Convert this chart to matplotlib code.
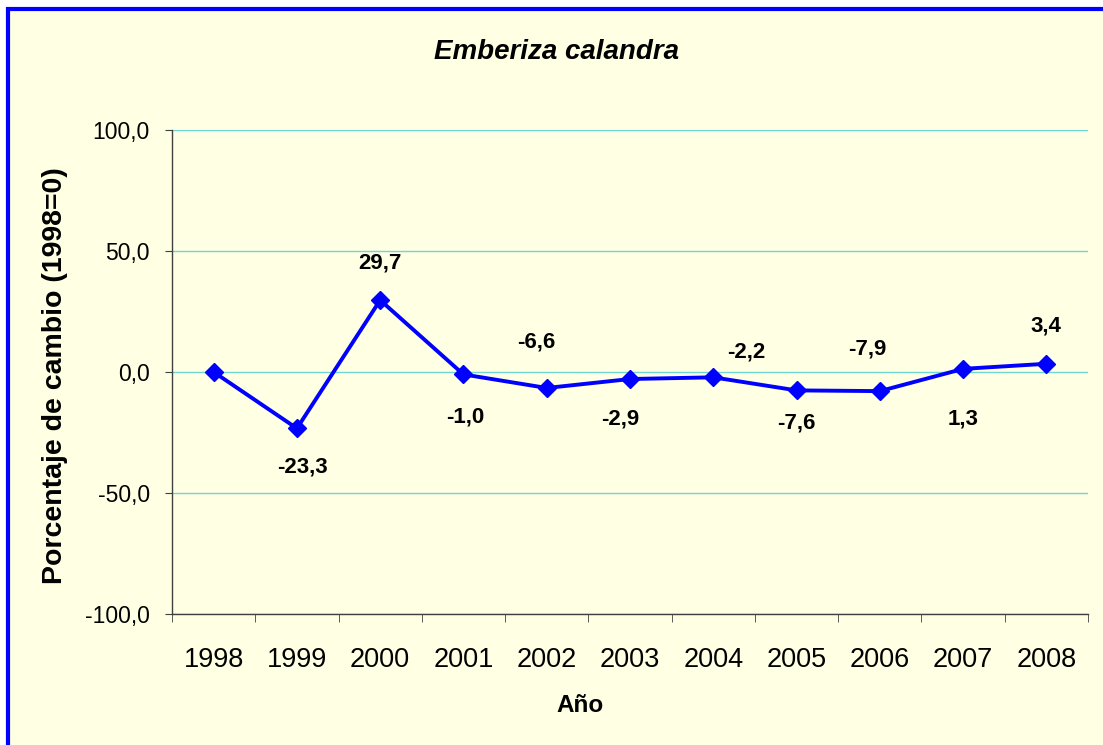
import numpy as np
import matplotlib
matplotlib.use('Agg')
import matplotlib.pyplot as plt
from matplotlib.patches import Rectangle

plt.rcParams['font.family'] = ['Liberation Sans', 'DejaVu Sans']

years = ['1998', '1999', '2000', '2001', '2002', '2003', '2004', '2005', '2006', '2007', '2008']
cambio = [0.0, -23.3, 29.7, -1.0, -6.6, -2.9, -2.2, -7.6, -7.9, 1.3, 3.4]
etiquetas = ['', '-23,3', '29,7', '-1,0', '-6,6', '-2,9', '-2,2', '-7,6', '-7,9', '1,3', '3,4']
yticks = [-100, -50, 0, 50, 100]
ytick_labels = ['-100,0', '-50,0', '0,0', '50,0', '100,0']

# label offsets in pixels (dx, dy), as placed in the original sheet
lab_dx = [0, 6, 0, 2, -10, -10, 33, 0, -13, 0, 0]
lab_dy = [0, -39, 37, -43, 46, -40, 25, -33, 42, -50, 38]

W, H = 1103, 745
fig = plt.figure(figsize=(W / 100, H / 100), dpi=100)
fig.patch.set_facecolor('white')

# chart area with blue frame (cut off at right and bottom)
fig.patches.append(Rectangle((8 / W, -0.05), 1.2, 1 - 9 / H + 0.05,
                             transform=fig.transFigure, facecolor='#FFFFE3',
                             edgecolor='#0000FF', linewidth=3.0, zorder=-5))

ax = fig.add_axes([172 / W, 1 - 614 / H, (1088 - 172) / W, (614 - 130) / H])
ax.set_facecolor('none')
ax.set_zorder(2)

x = np.arange(len(years))
ax.plot(x, cambio, color='#0000FF', lw=2.8, marker='D', ms=9,
        markerfacecolor='#0000FF', markeredgecolor='#0000FF', zorder=3,
        clip_on=False)

for i in range(len(years)):
    if etiquetas[i]:
        ax.annotate(etiquetas[i], (x[i], cambio[i]), xytext=(lab_dx[i], lab_dy[i]),
                    textcoords='offset pixels', ha='center', va='center',
                    fontsize=16, fontweight='bold', color='black')

ax.set_xlim(-0.5, len(years) - 0.5)
ax.set_ylim(-100, 100)
ax.set_yticks(yticks)
ax.set_yticklabels(ytick_labels, fontsize=16.5)
ax.set_xticks(x)
ax.set_xticklabels(years, fontsize=19.5)
ax.set_xticks(np.arange(-0.5, len(years), 1.0), minor=True)
ax.tick_params(axis='x', which='major', length=0, pad=24)
ax.tick_params(axis='x', which='minor', length=6, direction='out', color='#404040')
ax.tick_params(axis='y', length=5, direction='out', color='#404040', pad=11)

ax.grid(axis='y', color='#6FD6D6', lw=1.0)
ax.set_axisbelow(True)
for s in ['top', 'right']:
    ax.spines[s].set_visible(False)
for s in ['left', 'bottom']:
    ax.spines[s].set_color('#404040')
    ax.spines[s].set_linewidth(1.0)

fig.text(557 / W, 1 - 52 / H, 'Emberiza calandra', ha='center', va='center',
         fontsize=20, fontweight='bold', fontstyle='italic')
fig.text(580 / W, 1 - 705 / H, 'Año', ha='center', va='center',
         fontsize=17.5, fontweight='bold')
fig.text(55 / W, 1 - 376 / H, 'Porcentaje de cambio (1998=0)', ha='center',
         va='center', rotation=90, fontsize=20.5, fontweight='bold')

fig.savefig('out.png', dpi=100)
